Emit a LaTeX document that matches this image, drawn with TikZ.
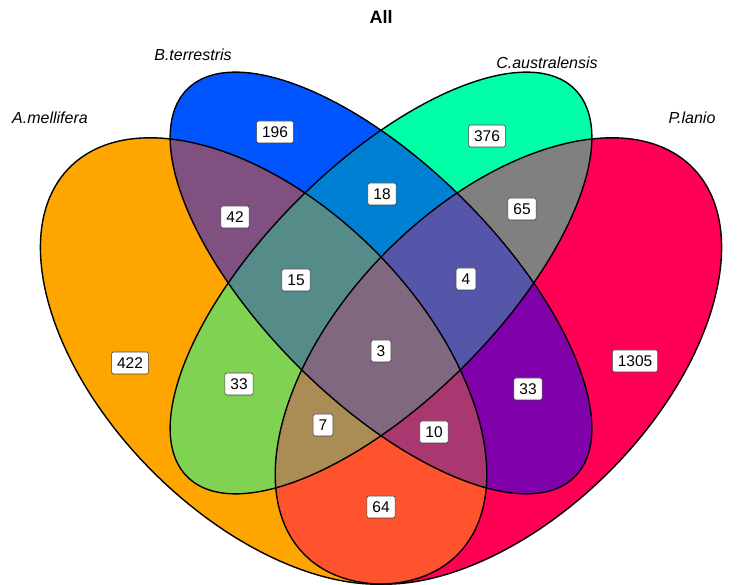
\documentclass[tikz,border=0pt]{standalone}
\usepackage{fontspec}
\setmainfont{Liberation Sans}

% region colours
\definecolor{cA}{HTML}{FFA500}
\definecolor{cB}{HTML}{0055FF}
\definecolor{cC}{HTML}{00FFA6}
\definecolor{cD}{HTML}{FF0055}
\definecolor{cAB}{HTML}{805080}
\definecolor{cAC}{HTML}{80D253}
\definecolor{cAD}{HTML}{FF532D}
\definecolor{cBC}{HTML}{0080D2}
\definecolor{cBD}{HTML}{8000AA}
\definecolor{cCD}{HTML}{808080}
\definecolor{cABC}{HTML}{558C8A}
\definecolor{cABD}{HTML}{AA3870}
\definecolor{cACD}{HTML}{AA8C55}
\definecolor{cBCD}{HTML}{5555AA}
\definecolor{cABCD}{HTML}{806880}

% the four ellipses as clip paths
\newcommand\clipA{\clip[shift={(263.6,224)},rotate=-45] (0,0) ellipse (274 and 156.6);}
\newcommand\clipB{\clip[shift={(381,302)},rotate=-45] (0,0) ellipse (274 and 117.5);}
\newcommand\clipC{\clip[shift={(381,302)},rotate=45] (0,0) ellipse (274 and 117.5);}
\newcommand\clipD{\clip[shift={(498.4,224)},rotate=45] (0,0) ellipse (274 and 156.6);}
\newcommand\paintregion[2]{\begin{scope}#1\fill[#2] (0,0) rectangle (746,585);\end{scope}}

\begin{document}
\begin{tikzpicture}[x=1pt,y=1pt,
  count/.style={draw=black!75, fill=white, rounded corners=2pt, line width=0.6pt,
    inner xsep=5.5pt, inner ysep=5.5pt, text height=11pt, text depth=0pt,
    font=\fontsize{15.5}{16}\selectfont},
  setname/.style={font=\fontsize{16}{18}\selectfont\itshape},
  rim/.style={draw=black, line width=1.4pt}]
\useasboundingbox (0,0) rectangle (746,585);

% single sets
\paintregion{\clipA}{cA}
\paintregion{\clipB}{cB}
\paintregion{\clipC}{cC}
\paintregion{\clipD}{cD}
% pairs
\paintregion{\clipA\clipB}{cAB}
\paintregion{\clipA\clipC}{cAC}
\paintregion{\clipA\clipD}{cAD}
\paintregion{\clipB\clipC}{cBC}
\paintregion{\clipB\clipD}{cBD}
\paintregion{\clipC\clipD}{cCD}
% triples
\paintregion{\clipA\clipB\clipC}{cABC}
\paintregion{\clipA\clipB\clipD}{cABD}
\paintregion{\clipA\clipC\clipD}{cACD}
\paintregion{\clipB\clipC\clipD}{cBCD}
% all four
\paintregion{\clipA\clipB\clipC\clipD}{cABCD}

% outlines
\draw[rim,shift={(263.6,224)},rotate=-45] (0,0) ellipse (274 and 156.6);
\draw[rim,shift={(381,302)},rotate=-45] (0,0) ellipse (274 and 117.5);
\draw[rim,shift={(381,302)},rotate=45] (0,0) ellipse (274 and 117.5);
\draw[rim,shift={(498.4,224)},rotate=45] (0,0) ellipse (274 and 156.6);

% title and set names
\node (title) at (381,568) {\fontsize{18}{20}\selectfont\bfseries All};
\node[setname] (nameA) at (50,467) {A.mellifera};
\node[setname] (nameB) at (193,530) {B.terrestris};
\node[setname] (nameC) at (547,522) {C.australensis};
\node[setname] (nameD) at (692,467) {P.lanio};

% counts
\node[count] (nB)    at (275,453) {196};
\node[count] (nC)    at (487,449) {376};
\node[count] (nAB)   at (235,368) {42};
\node[count] (nBC)   at (382,391) {18};
\node[count] (nCD)   at (522,376) {65};
\node[count] (nABC)  at (296,305) {15};
\node[count] (nBCD)  at (466,306) {4};
\node[count] (nA)    at (130,222) {422};
\node[count] (nABCD) at (381,234) {3};
\node[count] (nD)    at (635,224) {1305};
\node[count] (nAC)   at (239,201) {33};
\node[count] (nBD)   at (528,196) {33};
\node[count] (nACD)  at (323,160) {7};
\node[count] (nABD)  at (434,153) {10};
\node[count] (nAD)   at (381,78) {64};
\end{tikzpicture}
\end{document}
